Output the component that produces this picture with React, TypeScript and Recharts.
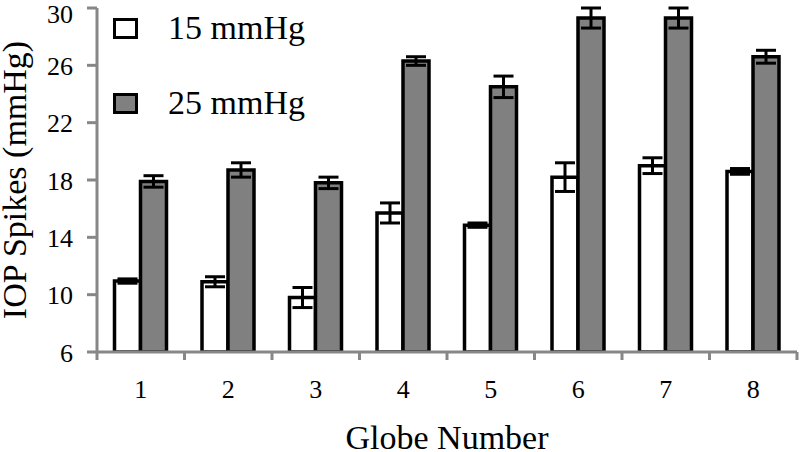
import { Bar, BarChart, ErrorBar, Legend, XAxis, YAxis } from 'recharts'

const GLOBES = ['1', '2', '3', '4', '5', '6', '7', '8']
const LOW_MEAN = [10.95, 10.9, 9.8, 15.7, 14.85, 18.2, 19.0, 18.6]
const LOW_ERR = [0.15, 0.35, 0.7, 0.7, 0.15, 1.0, 0.55, 0.2]
const HIGH_MEAN = [17.9, 18.7, 17.8, 26.3, 24.5, 29.3, 29.3, 26.6]
const HIGH_ERR = [0.4, 0.5, 0.4, 0.3, 0.75, 0.7, 0.7, 0.45]
const Y_TICKS = [6, 10, 14, 18, 22, 26, 30]

const SERIES = [
  { key: 'low', name: '15 mmHg', fill: '#ffffff' },
  { key: 'high', name: '25 mmHg', fill: '#808080' },
]

const FONT = '"Liberation Serif", "Times New Roman", serif'
const AXIS_GREY = '#878787'

const rows = GLOBES.map((globe, i) => ({
  globe,
  low: LOW_MEAN[i],
  lowErr: LOW_ERR[i],
  high: HIGH_MEAN[i],
  highErr: HIGH_ERR[i],
}))

// category ticks: label in the middle, tick marks on the category edges (Excel style)
function EdgeTick(props: any) {
  const { x, y, payload, index, width, visibleTicksCount } = props
  const band = (width ?? 700) / GLOBES.length
  return (
    <g>
      <line x1={x - band / 2} x2={x - band / 2} y1={y} y2={y + 8} stroke={AXIS_GREY} strokeWidth={3} />
      {index === visibleTicksCount - 1 && (
        <line x1={x + band / 2} x2={x + band / 2} y1={y} y2={y + 8} stroke={AXIS_GREY} strokeWidth={3} />
      )}
      <text x={x} y={y + 46} textAnchor="middle" fontFamily={FONT} fontSize={26} fill="#000">
        {payload.value}
      </text>
    </g>
  )
}

function ValueTick(props: any) {
  const { x, y, payload, index, visibleTicksCount } = props
  // the top label sits a little lower so it stays inside the picture
  const shift = index === visibleTicksCount - 1 ? 5 : 1
  return (
    <text x={x - 12} y={y + shift} dy="0.33em" textAnchor="end" fontFamily={FONT} fontSize={26} fill="#000">
      {payload.value}
    </text>
  )
}

function XTitle(props: any) {
  const { viewBox } = props
  return (
    <text
      x={viewBox.x + viewBox.width / 2}
      y={viewBox.y + 97}
      textAnchor="middle"
      fontFamily={FONT}
      fontSize={34}
      fill="#000"
    >
      Globe Number
    </text>
  )
}

function YTitle(props: any) {
  const { viewBox } = props
  const cx = 26
  const cy = viewBox.y + viewBox.height / 2
  return (
    <text
      x={cx}
      y={cy}
      transform={`rotate(-90 ${cx} ${cy})`}
      textAnchor="middle"
      fontFamily={FONT}
      fontSize={34}
      fill="#000"
    >
      IOP Spikes (mmHg)
    </text>
  )
}

function LegendBox() {
  return (
    <div style={{ fontFamily: FONT, fontSize: 34, color: '#000' }}>
      {SERIES.map((s, i) => (
        <div
          key={s.key}
          style={{ display: 'flex', alignItems: 'center', height: 40, marginBottom: i === 0 ? 35 : 0 }}
        >
          <span
            style={{
              display: 'inline-block',
              width: 19,
              height: 15,
              border: '3px solid #000',
              background: s.fill,
              marginRight: 30,
            }}
          />
          <span>{s.name}</span>
        </div>
      ))}
    </div>
  )
}

export default function App() {
  return (
    <div style={{ position: 'absolute', left: 0, top: 0, background: '#fff' }}>
      <BarChart
        width={800}
        height={452}
        data={rows}
        margin={{ top: 8, right: 3, bottom: 0, left: 0 }}
        barCategoryGap="20%"
        barGap={0}
      >
        <XAxis
          dataKey="globe"
          height={100}
          axisLine={{ stroke: AXIS_GREY, strokeWidth: 3 }}
          tickLine={false}
          tickSize={0}
          tickMargin={0}
          tick={<EdgeTick />}
          interval={0}
          label={<XTitle />}
        />
        <YAxis
          width={97}
          domain={[6, 30]}
          ticks={Y_TICKS}
          allowDataOverflow
          axisLine={{ stroke: AXIS_GREY, strokeWidth: 3 }}
          tickLine={{ stroke: AXIS_GREY, strokeWidth: 3 }}
          tickSize={10}
          tickMargin={2}
          tick={<ValueTick />}
          label={<YTitle />}
        />
        <Legend
          layout="vertical"
          align="center"
          verticalAlign="middle"
          content={<LegendBox />}
          wrapperStyle={{ left: 113, top: 8, width: 'auto', height: 'auto' }}
        />
        <Bar dataKey="low" name="15 mmHg" fill="#ffffff" stroke="#000" strokeWidth={3.5} isAnimationActive={false}>
          <ErrorBar dataKey="lowErr" width={10} stroke="#000" strokeWidth={3} />
        </Bar>
        <Bar dataKey="high" name="25 mmHg" fill="#808080" stroke="#000" strokeWidth={3.5} isAnimationActive={false}>
          <ErrorBar dataKey="highErr" width={10} stroke="#000" strokeWidth={3} />
        </Bar>
      </BarChart>
    </div>
  )
}
